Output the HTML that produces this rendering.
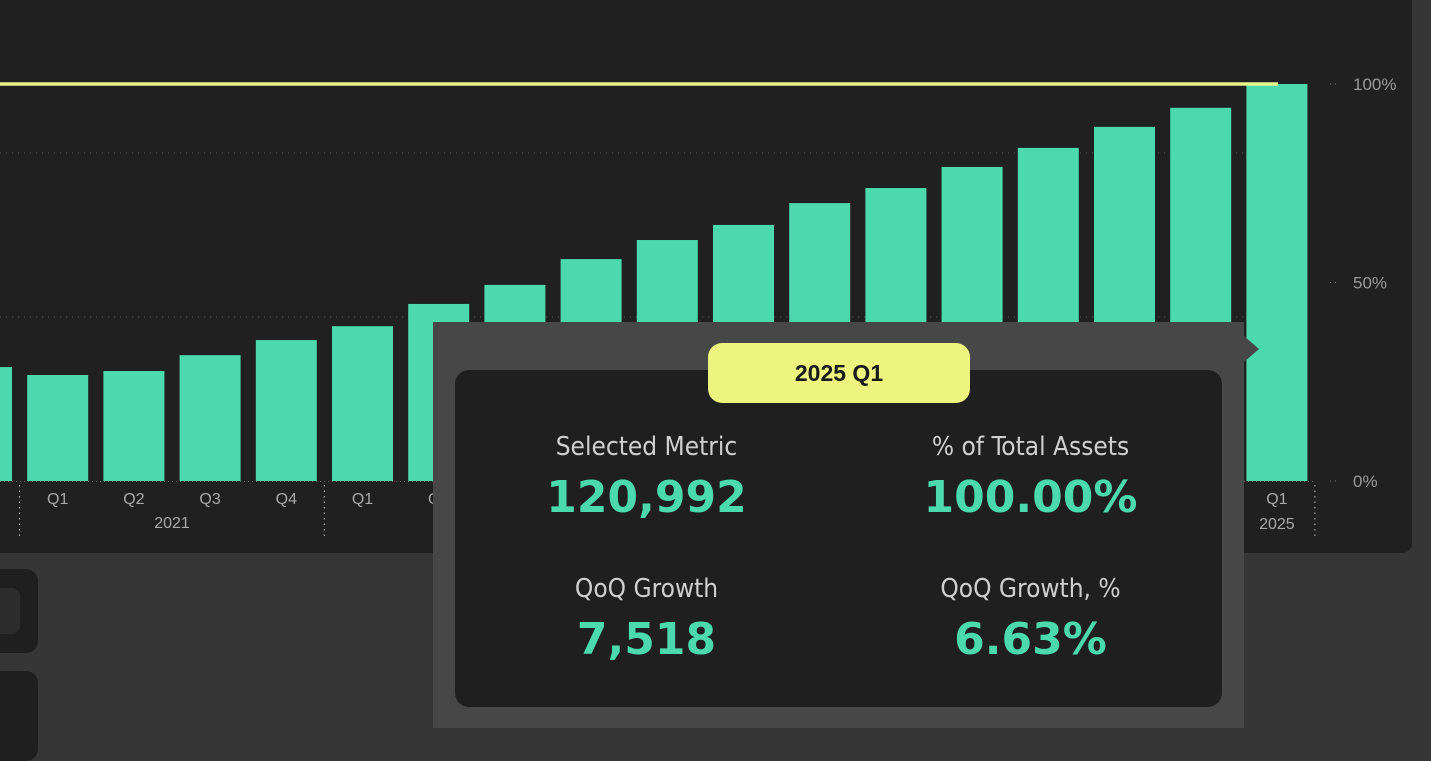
<!DOCTYPE html>
<html><head><meta charset="utf-8">
<style>
html,body{margin:0;padding:0;width:1431px;height:735px;overflow:hidden;background:#363636;font-family:"Liberation Sans",sans-serif;}
#panel{position:absolute;left:-20px;top:-20px;width:1432px;height:573px;background:#202020;border-radius:10px;}
svg{position:absolute;left:0;top:0;}
.w{position:absolute;background:#1f1f1f;border-radius:12px;}
#tip{position:absolute;left:433px;top:322px;width:811px;height:406px;background:#474747;}
#inner{position:absolute;left:22px;top:48px;width:767px;height:337px;background:#1f1f1f;border-radius:14px;}
#pill{position:absolute;left:275px;top:21px;width:262px;height:60px;background:#edf57f;border-radius:14px;text-align:center;line-height:60px;font-weight:bold;font-size:23px;color:#1a1a1a;}
.cell{position:absolute;width:383px;text-align:center;}
.lab{font-family:"DejaVu Sans Condensed","DejaVu Sans",sans-serif;font-size:26px;color:#cfcfcf;}
.val{font-family:"DejaVu Sans",sans-serif;font-weight:bold;font-size:44px;color:#4cd9ab;margin-top:10px;}
</style></head><body>
<div id="panel"></div>
<div class="w" style="left:-20px;top:569px;width:58px;height:84px"><div style="position:absolute;left:0;top:19px;width:40px;height:46px;background:#2c2c2c;border-radius:8px"></div></div>
<div class="w" style="left:-20px;top:671px;width:58px;height:90px"></div>
<svg id="chart" width="1431" height="735"></svg>
<div id="tip">
  <div id="inner">
    <div class="cell" style="left:0;top:62px"><div class="lab">Selected Metric</div><div class="val">120,992</div></div>
    <div class="cell" style="left:384px;top:62px"><div class="lab">% of Total Assets</div><div class="val">100.00%</div></div>
    <div class="cell" style="left:0;top:204px"><div class="lab">QoQ Growth</div><div class="val">7,518</div></div>
    <div class="cell" style="left:384px;top:204px"><div class="lab">QoQ Growth, %</div><div class="val">6.63%</div></div>
  </div>
  <div id="pill">2025 Q1</div>
</div>
<svg width="20" height="40" style="left:1244px;top:330px"><polygon points="0,6 15,19 0,32" fill="#474747"/></svg>
<script>
const quarters=["Q4","Q1","Q2","Q3","Q4","Q1","Q2","Q3","Q4","Q1","Q2","Q3","Q4","Q1","Q2","Q3","Q4","Q1"];
const years=["2020","2021","2021","2021","2021","2022","2022","2022","2022","2023","2023","2023","2023","2024","2024","2024","2024","2025"];
const values=[28.7,26.7,27.7,31.7,35.5,39.0,44.6,49.4,55.9,60.7,64.5,70.0,73.8,79.1,83.9,89.2,94.0,100];
const yTicks=[0,50,100];
const refLine=100;
const NS="http://www.w3.org/2000/svg";
const svg=document.getElementById('chart');
const y=v=>481-v*3.97;
const step=76.2, bw=61;
const x=i=>-49+i*step;
function mk(t,a,txt){const e=document.createElementNS(NS,t);for(const k in a)e.setAttribute(k,a[k]);if(txt!=null)e.textContent=txt;svg.appendChild(e);return e;}
// grid
[153,317].forEach(gy=>{const g=mk('line',{x1:0,x2:1305,y1:gy,y2:gy,stroke:'#555','stroke-dasharray':'1 5'});

});
const b0=mk('line',{x1:0,x2:1314,y1:481.5,y2:481.5,stroke:'#666','stroke-dasharray':'1 3'});


values.forEach((v,i)=>{
 const r=mk('rect',{x:x(i),y:y(v),width:bw,height:y(0)-y(v),fill:'#4cd9ab'});
 
 
 const t=mk('text',{x:x(i)+bw/2,y:504,'text-anchor':'middle','font-size':16,fill:'#a8a8a8','font-family':'Liberation Sans'},quarters[i]);
 
 
});
// year groups
const groups={};years.forEach((yr,i)=>{(groups[yr]=groups[yr]||[]).push(i);});
Object.keys(groups).forEach(yr=>{
 const idx=groups[yr];const a=x(idx[0])-7.5, b=x(idx[idx.length-1])+bw+7.5;
 if(yr!=="2020"){const t=mk('text',{x:(a+b)/2,y:idx.length>1?528:529,'text-anchor':'middle','font-size':16,fill:'#a8a8a8','font-family':'Liberation Sans'},yr);
 
 }
 const s=mk('line',{x1:b,x2:b,y1:485,y2:536,stroke:'#bbb','stroke-dasharray':'1.5 4'});
 
 
});
yTicks.forEach(v=>{
 const l=mk('line',{x1:1330,x2:1340,y1:y(v),y2:y(v),stroke:'#777','stroke-dasharray':'1 4'});
 
 
 const t=mk('text',{x:1353,y:y(v)+6,'font-size':17,fill:'#9a9a9a','font-family':'Liberation Sans'},v+'%');
 
 
});
const rl=mk('line',{x1:0,x2:1278,y1:y(refLine),y2:y(refLine),stroke:'#e8f58a','stroke-width':3.5});


</script>
</body></html>
